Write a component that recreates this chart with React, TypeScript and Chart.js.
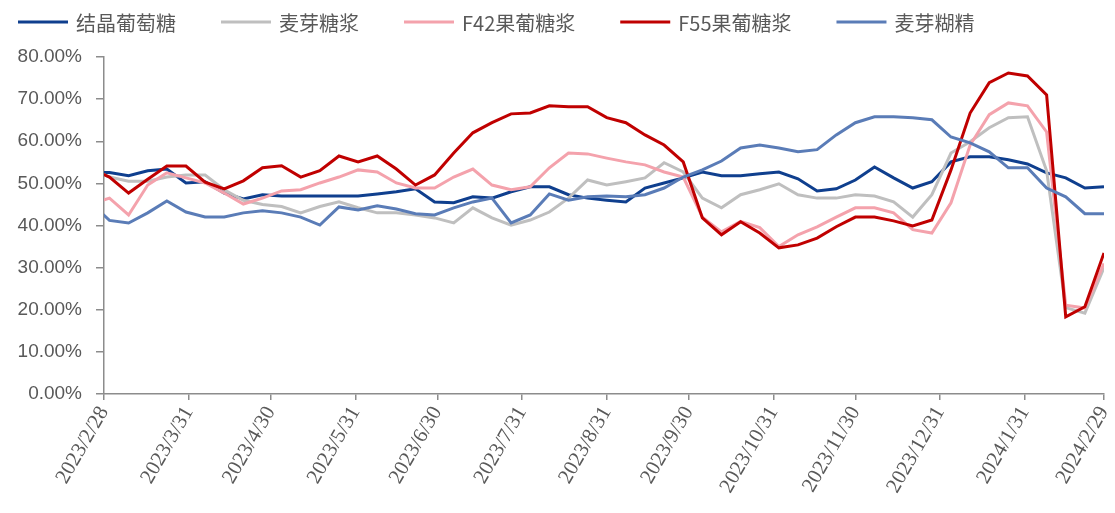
import React, { useEffect, useRef } from 'react';
import { Chart, registerables } from 'chart.js';

Chart.register(...registerables);

// ---------- data ----------
const DATES = [
  '2023/2/23', '2023/3/2', '2023/3/9', '2023/3/16', '2023/3/23', '2023/3/30',
  '2023/4/6', '2023/4/13', '2023/4/20', '2023/4/27', '2023/5/4', '2023/5/11',
  '2023/5/18', '2023/5/25', '2023/6/1', '2023/6/8', '2023/6/15', '2023/6/22',
  '2023/6/29', '2023/7/6', '2023/7/13', '2023/7/20', '2023/7/27', '2023/8/3',
  '2023/8/10', '2023/8/17', '2023/8/24', '2023/8/31', '2023/9/7', '2023/9/14',
  '2023/9/21', '2023/9/28', '2023/10/5', '2023/10/12', '2023/10/19', '2023/10/26',
  '2023/11/2', '2023/11/9', '2023/11/16', '2023/11/23', '2023/11/30', '2023/12/7',
  '2023/12/14', '2023/12/21', '2023/12/28', '2024/1/4', '2024/1/11', '2024/1/18',
  '2024/1/25', '2024/2/1', '2024/2/8', '2024/2/15', '2024/2/22', '2024/2/29',
];

const TICK_LABELS = [
  '2023/2/28', '2023/3/31', '2023/4/30', '2023/5/31', '2023/6/30', '2023/7/31',
  '2023/8/31', '2023/9/30', '2023/10/31', '2023/11/30', '2023/12/31', '2024/1/31',
  '2024/2/29',
];

const SERIES_NAMES = ['结晶葡萄糖', '麦芽糖浆', 'F42果葡糖浆', 'F55果葡糖浆', '麦芽糊精'];

const GLUCOSE = [
  52.5, 52.6, 51.8, 53.0, 53.4, 50.1, 50.4, 47.7, 46.3, 47.3, 47.0, 47.0,
  47.0, 47.0, 47.0, 47.5, 48.0, 48.7, 45.6, 45.4, 46.8, 46.5, 48.0, 49.2,
  49.2, 47.3, 46.5, 46.0, 45.6, 48.9, 50.1, 51.3, 52.7, 51.8, 51.8, 52.3,
  52.7, 51.1, 48.2, 48.7, 50.8, 53.9, 51.3, 48.9, 50.4, 55.1, 56.3, 56.3,
  55.6, 54.6, 52.5, 51.3, 48.9, 49.2,
];

const MALTOSE_SYRUP = [
  53.5, 51.5, 50.5, 50.5, 51.5, 52.0, 52.0, 48.5, 46.0, 45.0, 44.5, 43.0,
  44.5, 45.6, 44.2, 43.0, 43.0, 42.5, 41.8, 40.6, 44.2, 41.8, 40.1, 41.3,
  43.2, 46.5, 50.8, 49.6, 50.4, 51.3, 54.9, 52.7, 46.5, 44.2, 47.3, 48.5,
  49.9, 47.3, 46.5, 46.5, 47.3, 47.0, 45.6, 42.0, 47.3, 57.2, 59.9, 63.2,
  65.6, 65.8, 53.0, 20.5, 19.2, 30.0,
];

const F42 = [
  45.0, 46.5, 42.5, 49.6, 52.5, 51.3, 50.1, 47.7, 45.1, 46.5, 48.2, 48.5,
  50.1, 51.5, 53.2, 52.7, 50.1, 48.9, 48.9, 51.5, 53.4, 49.6, 48.5, 49.2,
  53.7, 57.2, 57.0, 56.0, 55.1, 54.4, 52.7, 51.5, 42.0, 38.5, 41.0, 39.5,
  35.0, 37.8, 39.7, 42.0, 44.2, 44.2, 43.0, 39.0, 38.2, 45.4, 59.1, 66.3,
  69.1, 68.4, 62.2, 21.1, 20.4, 31.0,
];

const F55 = [
  53.5, 51.5, 47.7, 51.0, 54.1, 54.1, 50.3, 48.7, 50.6, 53.7, 54.2, 51.5,
  53.0, 56.5, 55.1, 56.5, 53.4, 49.6, 52.0, 57.2, 62.0, 64.4, 66.5, 66.7,
  68.4, 68.2, 68.2, 65.6, 64.4, 61.5, 59.1, 55.1, 41.8, 37.8, 40.9, 38.2,
  34.7, 35.4, 37.0, 39.7, 42.0, 42.0, 41.1, 39.9, 41.3, 53.2, 66.7, 73.9,
  76.2, 75.5, 71.0, 18.3, 20.7, 33.5,
];

const MALTODEXTRIN = [
  45.5, 41.2, 40.6, 43.0, 45.8, 43.2, 42.0, 42.0, 43.0, 43.5, 43.0, 42.0,
  40.1, 44.4, 43.7, 44.7, 43.9, 42.8, 42.5, 44.2, 45.6, 46.5, 40.6, 42.5,
  47.5, 46.0, 46.8, 47.0, 46.8, 47.3, 48.9, 51.5, 53.2, 55.3, 58.4, 59.1,
  58.4, 57.5, 58.0, 61.5, 64.4, 65.8, 65.8, 65.6, 65.1, 61.0, 59.6, 57.5,
  53.7, 53.7, 48.9, 46.8, 42.8, 42.8,
];

const SERIES_VALUES = [GLUCOSE, MALTOSE_SYRUP, F42, F55, MALTODEXTRIN];
const SERIES_COLORS = ['#0F3F8E', '#BFBFBF', '#F4A2AC', '#C00000', '#5A7CB7'];

const Y_MIN = 0;
const Y_MAX = 80;
const Y_STEP = 10;

// ---------- helpers ----------
const dayOf = (s: string) => {
  const [y, m, d] = s.split('/').map(Number);
  const [y0, m0, d0] = TICK_LABELS[0].split('/').map(Number);
  return Math.round((Date.UTC(y, m - 1, d) - Date.UTC(y0, m0 - 1, d0)) / 86400000);
};

// ---------- style ----------
const W = 1099;
const H = 497;
const AXIS_COLOR = '#8C8C8C';
const TEXT_COLOR = '#595959';
const LEGEND_X = 10;
const LEGEND_Y = 14;
const LEGEND_LINE = 50;
const LEGEND_TEXT_GAP = 8;
const LEGEND_ITEM_GAP = 45;
const LEGEND_FONT = '20px "Noto Sans CJK SC"';

const legendPlugin = {
  id: 'customLegend',
  afterDraw(chart: any) {
    const ctx = chart.ctx as CanvasRenderingContext2D;
    ctx.save();
    ctx.font = LEGEND_FONT;
    ctx.textBaseline = 'middle';
    ctx.textAlign = 'left';
    let x = LEGEND_X;
    chart.data.datasets.forEach((ds: any) => {
      ctx.strokeStyle = ds.borderColor;
      ctx.lineWidth = 3;
      ctx.beginPath();
      ctx.moveTo(x, LEGEND_Y);
      ctx.lineTo(x + LEGEND_LINE, LEGEND_Y);
      ctx.stroke();
      x += LEGEND_LINE + LEGEND_TEXT_GAP;
      ctx.fillStyle = TEXT_COLOR;
      ctx.fillText(ds.label, x, LEGEND_Y + 1);
      x += ctx.measureText(ds.label).width + LEGEND_ITEM_GAP;
    });
    ctx.restore();
  },
};

export default function App() {
  const ref = useRef<HTMLCanvasElement | null>(null);

  useEffect(() => {
    if (!ref.current) return;
    const datasets = SERIES_NAMES.map((name, i) => ({
      label: name,
      data: DATES.map((d, j) => ({ x: dayOf(d), y: SERIES_VALUES[i][j] })),
      borderColor: SERIES_COLORS[i],
      backgroundColor: SERIES_COLORS[i],
      borderWidth: 3,
      pointRadius: 0,
      pointHoverRadius: 0,
      tension: 0,
      fill: false,
      order: SERIES_NAMES.length - i,
    }));

    const chart = new Chart(ref.current, {
      type: 'line',
      data: { datasets },
      options: {
        responsive: false,
        animation: false,
        layout: { padding: { top: 49, right: 3, left: 0, bottom: 0 } },
        plugins: {
          legend: { display: false },
          tooltip: { enabled: false },
        },
        scales: {
          x: {
            type: 'linear',
            min: dayOf(TICK_LABELS[0]),
            max: dayOf(TICK_LABELS[TICK_LABELS.length - 1]),
            afterBuildTicks: (s: any) => {
              s.ticks = TICK_LABELS.map((t) => ({ value: dayOf(t) }));
            },
            afterFit: (s: any) => {
              s.height = 111;
              s.paddingRight = 0;
              s.paddingLeft = 0;
            },
            grid: {
              drawOnChartArea: false,
              drawTicks: true,
              tickLength: 6,
              color: AXIS_COLOR,
              lineWidth: 1.5,
            },
            border: { display: true, color: AXIS_COLOR, width: 1.5 },
            ticks: {
              autoSkip: false,
              minRotation: 60,
              maxRotation: 60,
              padding: 2,
              color: TEXT_COLOR,
              font: { family: '"Liberation Serif", serif', size: 21 },
              callback: (_v: any, i: number) => TICK_LABELS[i],
            },
          },
          y: {
            min: Y_MIN,
            max: Y_MAX,
            afterFit: (s: any) => {
              s.width = 96;
            },
            grid: {
              drawOnChartArea: false,
              drawTicks: true,
              tickLength: 8,
              color: AXIS_COLOR,
              lineWidth: 1.5,
            },
            border: { display: true, color: AXIS_COLOR, width: 1.5 },
            ticks: {
              stepSize: Y_STEP,
              padding: 14,
              color: TEXT_COLOR,
              font: { family: '"Liberation Sans", Arial, sans-serif', size: 19 },
              callback: (v: any) => Number(v).toFixed(2) + '%',
            },
          },
        },
      },
      plugins: [legendPlugin],
    });
    return () => chart.destroy();
  }, []);

  return (
    <div style={{ width: W, height: H }}>
      <canvas ref={ref} width={W} height={H} style={{ display: 'block' }} />
    </div>
  );
}
